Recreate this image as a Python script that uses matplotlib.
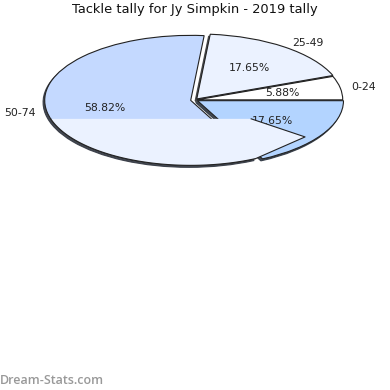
import numpy as np
import matplotlib
matplotlib.use("Agg")
import matplotlib.pyplot as plt
from matplotlib.patches import Polygon

# ---------- data ----------
title = "Tackle tally for Jy Simpkin - 2019 tally"
ranges = ["0-24", "25-49", "50-74", "75-99"]
shares = [5.88, 17.65, 58.82, 17.65]
labels = ["0-24", "25-49", "50-74", ""]
colors = ["#FFFFFF", "#EBF2FF", "#C4D9FF", "#B3D4FF"]
explode = [0.012, 0.02, 0.03, 0.02]

W = H = 390
fig = plt.figure(figsize=(W / 100, H / 100), dpi=100)

# pie centre at (195, 100) px, radius 146 px wide, 65 px tall
rx, ry = 146, 65
ax = fig.add_axes([0, 190 / H, 1, 200 / H])

wedges, texts, autotexts = ax.pie(
    shares, labels=labels, colors=colors, explode=explode,
    autopct="%.2f%%", pctdistance=0.6, labeldistance=1.08,
    startangle=0, counterclock=True,
    shadow=dict(ox=-0.008, oy=-0.022, shade=0.75, alpha=0.9),
    wedgeprops=dict(edgecolor="#222222", linewidth=0.8),
    textprops=dict(fontsize=7.8, color="#222222"),
)
ax.set_aspect("auto")
ax.set_xlim(-195 / rx, 195 / rx)
ax.set_ylim(-100 / ry, 100 / ry)
ax.axis("off")
for w in wedges:
    w.set_clip_on(False)

# rendering glitch of the source: lower band of the big slice painted light
big = wedges[2]
mid = np.deg2rad((big.theta1 + big.theta2) / 2)
dx, dy = explode[2] * np.cos(mid), explode[2] * np.sin(mid)
band = -0.29
tip_ang = np.deg2rad(323)
r_in, r_out = -band / np.sin(-tip_ang), 0.944
ang_b = big.theta2
left_ang = 180 + np.rad2deg(np.arcsin(-band))
rim = np.deg2rad(np.linspace(ang_b, left_ang, 80))
edge_pts = [(r_in * np.cos(tip_ang), band),
            (r_out * np.cos(tip_ang), r_out * np.sin(tip_ang))]
edge_pts += list(zip(np.cos(rim) + dx, np.sin(rim) + dy))
poly_pts = [(edge_pts[-1][0], band)] + edge_pts
ax.add_patch(Polygon(poly_pts, closed=True, facecolor="#EBF2FF",
                     edgecolor="none", zorder=5))
ex, ey = zip(*edge_pts)
ax.plot(ex, ey, color="#222222", linewidth=0.8, zorder=6)

fig.text(195 / W, 1 - 10 / H, title, ha="center", va="center",
         fontsize=9.4, color="#111111")
fig.text(0, 1 - 380 / H, "Dream-Stats.com", ha="left", va="center",
         fontsize=9, color="#999999", family="Open Sans", weight="semibold")

fig.savefig("out.png", dpi=100, facecolor="white")
